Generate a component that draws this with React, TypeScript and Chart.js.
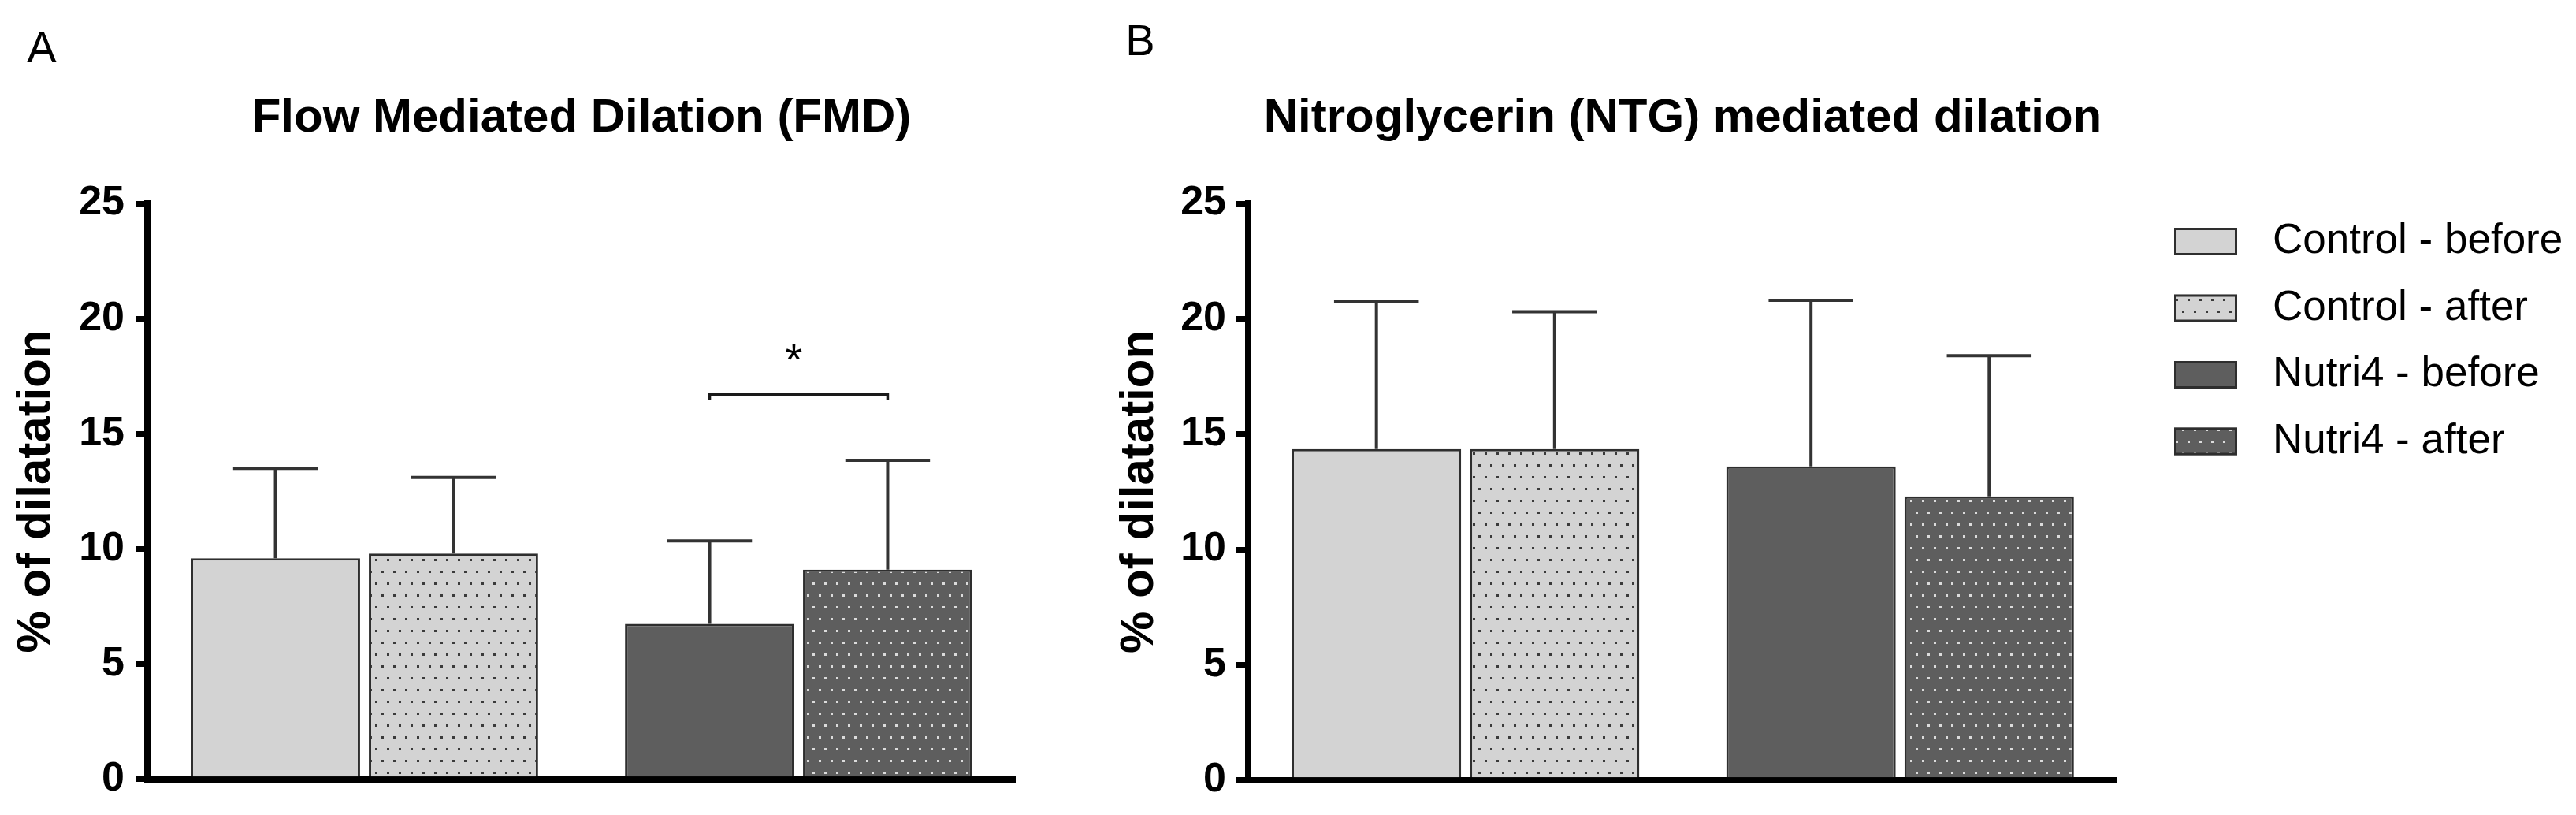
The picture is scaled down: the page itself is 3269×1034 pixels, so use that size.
import React, { useEffect, useRef } from 'react';
import { Chart, registerables } from 'chart.js';

Chart.register(...registerables);

// ---------------- data ----------------
const categories = ['Control', 'Nutri4'];
const seriesLabels = ['Control - before', 'Control - after', 'Nutri4 - before', 'Nutri4 - after'];
const seriesCategory = [0, 0, 1, 1];
const fmdMeans = [9.6, 9.8, 6.75, 9.1];
const fmdSd = [3.9, 3.3, 3.6, 4.75];
const ntgMeans = [14.35, 14.35, 13.6, 12.3];
const ntgSd = [6.4, 5.95, 7.2, 6.1];
const yTicks = [0, 5, 10, 15, 20, 25];
const fmdSignificance = [{ category: 1, from: 2, to: 3, level: 16.7, drop: 0.25, label: '*', labelLevel: 18.45 }];
const panelTitles = ['Flow Mediated Dilation (FMD)', 'Nitroglycerin (NTG) mediated dilation'];
const panelLetters = ['A', 'B'];
const yAxisTitle = '% of dilatation';

// ---------------- styles ----------------
const FONT = "'Liberation Sans', Arial, sans-serif";
const seriesFill = ['#d3d3d3', '#d3d3d3', '#5e5e5e', '#5e5e5e'];
const seriesDots: (string | null)[] = [null, '#3a3a3a', null, '#dcdcdc'];
const BAR_BORDER = '#2e2e2e';

function makeFill(base: string, dot: string | null): any {
  if (!dot) return base;
  const c = document.createElement('canvas');
  c.width = 30;
  c.height = 30;
  const g = c.getContext('2d')!;
  g.fillStyle = base;
  g.fillRect(0, 0, 30, 30);
  g.fillStyle = dot;
  [[4, 4], [19, 4], [11, 19], [26, 19]].forEach(([x, y]) => g.fillRect(x, y, 3, 3));
  return g.createPattern(c, 'repeat');
}

// ---------------- plugins ----------------
const errorBarsPlugin = {
  id: 'errorBars',
  afterDatasetsDraw(chart: any, _args: any, opts: any) {
    const { ctx } = chart;
    const yScale = chart.scales.y;
    ctx.save();
    ctx.strokeStyle = opts.color;
    ctx.lineWidth = opts.width;
    chart.data.datasets.forEach((ds: any, i: number) => {
      const meta = chart.getDatasetMeta(i);
      meta.data.forEach((el: any, j: number) => {
        const v = ds.data[j];
        if (v == null) return;
        const top = yScale.getPixelForValue(v + opts.sd[i]);
        const half = el.width / 4;
        ctx.beginPath();
        ctx.moveTo(el.x, el.y);
        ctx.lineTo(el.x, top);
        ctx.moveTo(el.x - half, top);
        ctx.lineTo(el.x + half, top);
        ctx.stroke();
      });
    });
    ctx.restore();
  },
};

const significancePlugin = {
  id: 'significance',
  afterDatasetsDraw(chart: any, _args: any, opts: any) {
    const items = opts.items || [];
    if (!items.length) return;
    const { ctx } = chart;
    const yScale = chart.scales.y;
    ctx.save();
    items.forEach((s: any) => {
      const a = chart.getDatasetMeta(s.from).data[s.category];
      const b = chart.getDatasetMeta(s.to).data[s.category];
      const y = yScale.getPixelForValue(s.level);
      const yd = yScale.getPixelForValue(s.level - s.drop);
      ctx.strokeStyle = '#1a1a1a';
      ctx.lineWidth = 3.5;
      ctx.beginPath();
      ctx.moveTo(a.x, yd);
      ctx.lineTo(a.x, y);
      ctx.lineTo(b.x, y);
      ctx.lineTo(b.x, yd);
      ctx.stroke();
      ctx.fillStyle = '#000';
      ctx.font = `56px ${FONT}`;
      ctx.textAlign = 'center';
      ctx.textBaseline = 'middle';
      ctx.fillText(s.label, (a.x + b.x) / 2 - 6, yScale.getPixelForValue(s.labelLevel) + 10);
    });
    ctx.restore();
  },
};

const panelLetterPlugin = {
  id: 'panelLetter',
  afterDraw(chart: any, _args: any, opts: any) {
    const { ctx } = chart;
    ctx.save();
    ctx.font = `56px ${FONT}`;
    ctx.fillStyle = '#000';
    ctx.textAlign = 'center';
    ctx.textBaseline = 'middle';
    ctx.fillText(opts.text, opts.x, opts.y);
    ctx.restore();
  },
};

const boxLegendPlugin = {
  id: 'boxLegend',
  afterDraw(chart: any, _args: any, opts: any) {
    if (!opts.show) return;
    const { ctx, chartArea } = chart;
    ctx.save();
    const x = chartArea.right + opts.dx;
    chart.data.datasets.forEach((ds: any, i: number) => {
      const top = opts.top + i * opts.step;
      ctx.fillStyle = ds.backgroundColor;
      ctx.fillRect(x, top, opts.boxW, opts.boxH);
      ctx.strokeStyle = ds.borderColor;
      ctx.lineWidth = 3;
      ctx.strokeRect(x + 1.5, top + 1.5, opts.boxW - 3, opts.boxH - 3);
      ctx.fillStyle = '#000';
      ctx.font = opts.font;
      ctx.textAlign = 'left';
      ctx.textBaseline = 'middle';
      ctx.fillText(ds.label, x + opts.boxW + opts.gap, top + opts.boxH / 2);
    });
    ctx.restore();
  },
};

// ---------------- config ----------------
function buildConfig(p: any) {
  const datasets = seriesLabels.map((label, i) => ({
    label,
    data: categories.map((_, ci) => (ci === seriesCategory[i] ? p.means[i] : null)),
    backgroundColor: makeFill(seriesFill[i], seriesDots[i]),
    borderColor: BAR_BORDER,
    borderWidth: 3,
    borderSkipped: 'start',
    categoryPercentage: 0.82,
    barPercentage: 0.951,
  }));
  return {
    type: 'bar',
    data: { labels: categories, datasets },
    plugins: [errorBarsPlugin, significancePlugin, panelLetterPlugin, boxLegendPlugin],
    options: {
      responsive: false,
      animation: false,
      devicePixelRatio: 1,
      skipNull: true,
      layout: { padding: { left: 0, right: p.padRight, top: 0, bottom: 41 } },
      scales: {
        x: {
          type: 'category',
          offset: true,
          grid: { display: false, drawTicks: false, lineWidth: 0 },
          ticks: { display: false },
          border: { display: true, color: '#000', width: 8 },
          afterFit: (s: any) => {
            s.height = 0;
          },
        },
        y: {
          min: 0,
          max: 25,
          afterBuildTicks: (s: any) => {
            s.ticks = yTicks.map((v) => ({ value: v }));
          },
          ticks: {
            color: '#000',
            padding: p.tickPad,
            font: { family: FONT, size: 52, weight: 'bold' },
          },
          grid: {
            display: true,
            drawOnChartArea: false,
            drawTicks: true,
            tickLength: 15,
            tickWidth: 7,
            tickColor: '#000',
            lineWidth: 7,
            color: '#000',
          },
          border: { display: true, color: '#000', width: 8 },
          title: {
            display: true,
            text: yAxisTitle,
            color: '#000',
            font: { family: FONT, size: 60, weight: 'bold' },
            padding: { top: 10, bottom: 0 },
          },
          afterFit: (s: any) => {
            s.width = p.yWidth;
          },
        },
      },
      plugins: {
        legend: { display: false },
        tooltip: { enabled: false },
        title: {
          display: true,
          text: p.title,
          color: '#000',
          fullSize: false,
          align: 'center',
          font: { family: FONT, size: 60, weight: 'bold', lineHeight: 1.2 },
          padding: { top: 114, bottom: 72 },
        },
        errorBars: { sd: p.sd, color: '#333', width: 4 },
        significance: { items: p.sig },
        panelLetter: { text: p.letter, x: p.letterX, y: p.letterY },
        boxLegend: {
          show: p.legend,
          dx: 72,
          top: 289,
          step: 84.5,
          boxW: 80,
          boxH: 35,
          gap: 45,
          font: `53px ${FONT}`,
        },
      },
    },
  };
}

function Panel({ left, width, params }: { left: number; width: number; params: any }) {
  const ref = useRef<HTMLCanvasElement | null>(null);
  useEffect(() => {
    if (!ref.current) return;
    const chart = new Chart(ref.current, buildConfig(params) as any);
    return () => chart.destroy();
  }, []);
  return (
    <canvas
      ref={ref}
      width={width}
      height={1034}
      style={{ position: 'absolute', left, top: 0, width, height: 1034 }}
    />
  );
}

export default function App() {
  const panelA = {
    means: fmdMeans,
    sd: fmdSd,
    sig: fmdSignificance,
    title: panelTitles[0],
    letter: panelLetters[0],
    letterX: 53,
    letterY: 64,
    padRight: 111,
    yWidth: 187,
    tickPad: 14,
    legend: false,
  };
  const panelB = {
    means: ntgMeans,
    sd: ntgSd,
    sig: [],
    title: panelTitles[1],
    letter: panelLetters[1],
    letterX: 47,
    letterY: 55,
    padRight: 582,
    yWidth: 184,
    tickPad: 13,
    legend: true,
  };
  return (
    <div style={{ position: 'absolute', left: 0, top: 0, width: 3269, height: 1034, background: '#fff', overflow: 'hidden' }}>
      <Panel left={0} width={1400} params={panelA} />
      <Panel left={1400} width={1869} params={panelB} />
    </div>
  );
}
